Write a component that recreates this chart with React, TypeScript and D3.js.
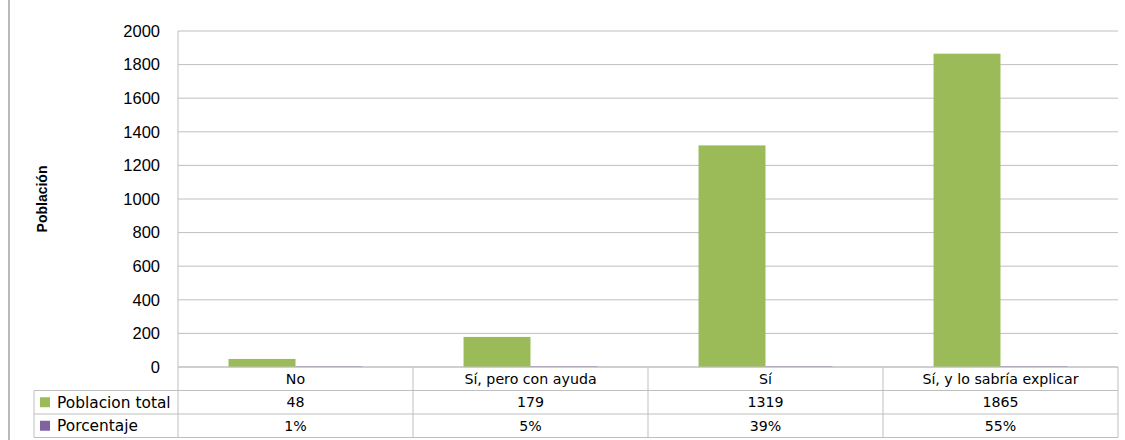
import React from "react";
import * as d3 from "d3";

const categories = ["No", "Sí, pero con ayuda", "Sí", "Sí, y lo sabría explicar"];
const poblacionTotal = [48, 179, 1319, 1865];
const porcentaje = [0.01, 0.05, 0.39, 0.55];
const porcentajeLabels = ["1%", "5%", "39%", "55%"];
const seriesNames = ["Poblacion total", "Porcentaje"];
const yTicks = [0, 200, 400, 600, 800, 1000, 1200, 1400, 1600, 1800, 2000];

const W = 1125;
const H = 440;
const left = 178;
const right = 1118;
const top = 31;
const bottom = 367;
const rowH = 23.5;
const legendLeft = 34;
const green = "#9BBB59";
const purple = "#8064A2";
const gridColor = "#BFBFBF";
const tickFont = "'Liberation Sans', Arial, sans-serif";
const tableFont = "'DejaVu Sans', Verdana, sans-serif";

export default function App() {
  const x = d3.scaleBand<string>().domain(categories).range([left, right]).paddingInner(0).paddingOuter(0);
  const xs = d3.scaleBand<string>().domain(seriesNames).range([0, x.bandwidth()]).paddingInner(0).paddingOuter(0.755);
  const y = d3.scaleLinear().domain([0, 2000]).range([bottom, top]);
  const series = [
    { name: seriesNames[0], values: poblacionTotal, color: green, labels: poblacionTotal.map(String) },
    { name: seriesNames[1], values: porcentaje, color: purple, labels: porcentajeLabels },
  ];
  const colEdges = [left, ...categories.map((c) => (x(c) as number) + x.bandwidth())];
  return (
    <svg width={W} height={H} style={{ position: "absolute", left: 0, top: 0, background: "#fff" }}>
      <line x1={9} x2={9} y1={0} y2={H} stroke="#8c8c8c" strokeWidth={1.2} />
      {yTicks.map((t) => (
        <g key={t}>
          <line x1={left} x2={right} y1={y(t)} y2={y(t)} stroke={gridColor} strokeWidth={1} />
          <text x={160} y={y(t)} dy="0.35em" textAnchor="end" fontFamily={tickFont} fontSize={16.5} fill="#000">
            {t}
          </text>
        </g>
      ))}
      <line x1={left} x2={left} y1={top} y2={bottom} stroke={gridColor} />
      <text
        transform={`translate(47,${(top + bottom) / 2}) rotate(-90)`}
        textAnchor="middle"
        fontFamily={tickFont}
        fontWeight="bold"
        fontSize={14}
      >
        Población
      </text>
      {series.map((s) =>
        categories.map((c, i) => {
          const x0 = (x(c) as number) + (xs(s.name) as number);
          const yv = y(s.values[i]);
          return (
            <rect
              key={s.name + c}
              x={x0}
              y={Math.min(yv, bottom - 1)}
              width={xs.bandwidth()}
              height={Math.max(bottom - yv, 1)}
              fill={s.color}
              opacity={s.name === "Porcentaje" ? 0.6 : 1}
            />
          );
        })
      )}
      {/* data table */}
      <g stroke={gridColor} strokeWidth={1}>
        <line x1={left} x2={right} y1={bottom} y2={bottom} />
        <line x1={legendLeft} x2={right} y1={bottom + rowH} y2={bottom + rowH} />
        <line x1={legendLeft} x2={right} y1={bottom + 2 * rowH} y2={bottom + 2 * rowH} />
        <line x1={legendLeft} x2={right} y1={bottom + 3 * rowH} y2={bottom + 3 * rowH} />
        <line x1={legendLeft} x2={legendLeft} y1={bottom + rowH} y2={bottom + 3 * rowH} />
        {colEdges.map((e, i) => (
          <line key={i} x1={e} x2={e} y1={bottom} y2={bottom + 3 * rowH} />
        ))}
      </g>
      {categories.map((c) => (
        <text
          key={c}
          x={(x(c) as number) + x.bandwidth() / 2}
          y={bottom + rowH / 2}
          dy="0.36em"
          textAnchor="middle"
          fontFamily={tableFont}
          fontSize={14.2}
        >
          {c}
        </text>
      ))}
      {series.map((s, r) => {
        const cy = bottom + rowH * (r + 1) + rowH / 2;
        return (
          <g key={s.name}>
            <rect x={40} y={cy - 5} width={10} height={10} fill={s.color} />
            <text x={57} y={cy} dy="0.36em" fontFamily={tableFont} fontSize={15.4}>
              {s.name}
            </text>
            {categories.map((c, i) => (
              <text
                key={c}
                x={(x(c) as number) + x.bandwidth() / 2}
                y={cy}
                dy="0.36em"
                textAnchor="middle"
                fontFamily={tableFont}
                fontSize={14.2}
              >
                {s.labels[i]}
              </text>
            ))}
          </g>
        );
      })}
    </svg>
  );
}
